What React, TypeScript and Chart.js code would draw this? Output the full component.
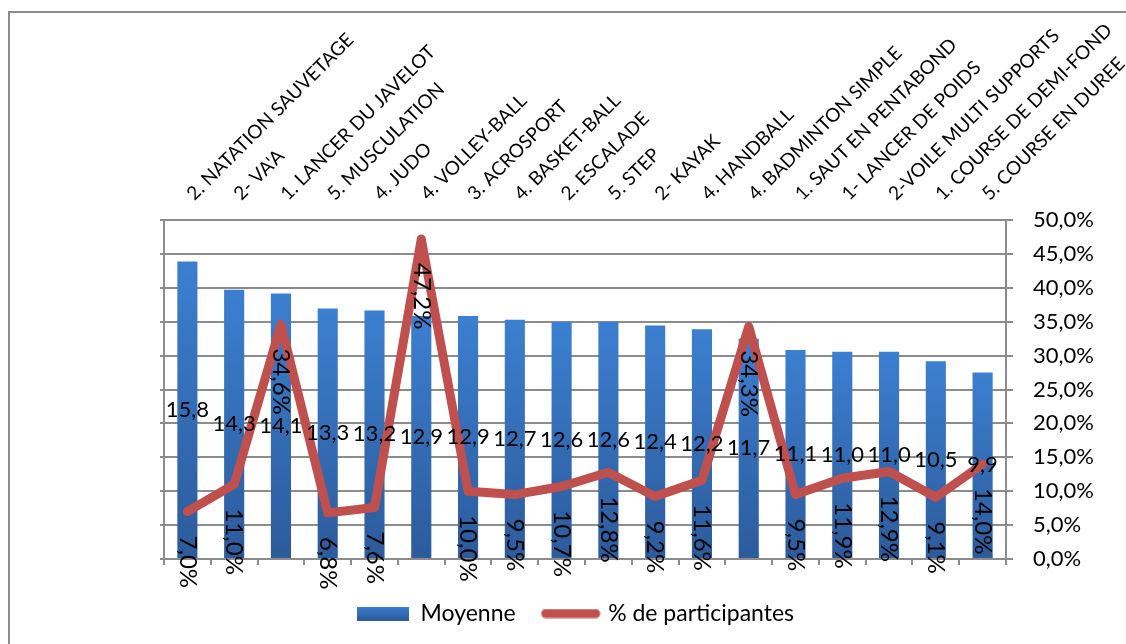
import React, { useEffect, useRef } from 'react';
import { Chart, registerables } from 'chart.js';

Chart.register(...registerables);

const categories: string[] = [
  '2. NATATION SAUVETAGE',
  "2- VA'A",
  '1. LANCER DU JAVELOT',
  '5. MUSCULATION',
  '4. JUDO',
  '4. VOLLEY-BALL',
  '3. ACROSPORT',
  '4. BASKET-BALL',
  '2. ESCALADE',
  '5. STEP',
  '2- KAYAK',
  '4. HANDBALL',
  '4. BADMINTON SIMPLE',
  '1. SAUT EN PENTABOND',
  '1- LANCER DE POIDS',
  '2-VOILE MULTI SUPPORTS',
  '1. COURSE DE DEMI-FOND',
  '5. COURSE EN DUREE',
];

const moyenne: number[] = [15.8, 14.3, 14.1, 13.3, 13.2, 12.9, 12.9, 12.7, 12.6, 12.6, 12.4, 12.2, 11.7, 11.1, 11.0, 11.0, 10.5, 9.9];

const participantes: number[] = [7.0, 11.0, 34.6, 6.8, 7.6, 47.2, 10.0, 9.5, 10.7, 12.8, 9.2, 11.6, 34.3, 9.5, 11.9, 12.9, 9.1, 14.0];

const seriesNames: string[] = ['Moyenne', '% de participantes'];

const FONT = 'Lato';
const GRID = '#8c8c8c';
const RED = '#c0504d';
const BLUE_TOP = '#3c7fd0';
const BLUE_BOT = '#2c5b9b';

const fmt = (v: number) => v.toFixed(1).replace('.', ',');
const fmtPct = (v: number) => v.toFixed(1).replace('.', ',') + '%';

const valueLabels = {
  id: 'valueLabels',
  afterDatasetsDraw(chart: any) {
    const ctx = chart.ctx as CanvasRenderingContext2D;
    ctx.save();
    ctx.fillStyle = '#000';
    const barMeta = chart.getDatasetMeta(0);
    ctx.font = `22px ${FONT}`;
    ctx.textAlign = 'center';
    ctx.textBaseline = 'middle';
    barMeta.data.forEach((el: any, i: number) => {
      const p = el.getProps(['x', 'y', 'base'], true);
      ctx.fillText(fmt(moyenne[i]), p.x, (p.y + p.base) / 2);
    });
    const lineMeta = chart.getDatasetMeta(1);
    ctx.font = `24px ${FONT}`;
    ctx.textAlign = 'left';
    lineMeta.data.forEach((pt: any, i: number) => {
      ctx.save();
      ctx.translate(pt.x, pt.y + 24);
      ctx.rotate(Math.PI / 2);
      ctx.fillText(fmtPct(participantes[i]), 0, 0);
      ctx.restore();
    });
    ctx.restore();
  },
};

function makeBarSwatch(): HTMLCanvasElement {
  const c = document.createElement('canvas');
  c.width = 52;
  c.height = 14;
  const g = c.getContext('2d')!;
  const grad = g.createLinearGradient(0, 0, 0, 14);
  grad.addColorStop(0, BLUE_TOP);
  grad.addColorStop(1, BLUE_BOT);
  g.fillStyle = grad;
  g.fillRect(0, 0, 52, 14);
  return c;
}

function makeLineSwatch(): HTMLCanvasElement {
  const c = document.createElement('canvas');
  c.width = 60;
  c.height = 10;
  const g = c.getContext('2d')!;
  g.strokeStyle = RED;
  g.lineWidth = 9;
  g.lineCap = 'round';
  g.beginPath();
  g.moveTo(5, 5);
  g.lineTo(55, 5);
  g.stroke();
  return c;
}

export default function App() {
  const ref = useRef<HTMLCanvasElement | null>(null);

  useEffect(() => {
    if (!ref.current) return;
    Chart.defaults.font.family = FONT;
    const barSwatch = makeBarSwatch();
    const lineSwatch = makeLineSwatch();
    const chart = new Chart(ref.current, {
      type: 'bar',
      data: {
        labels: categories,
        datasets: [
          {
            type: 'bar',
            label: seriesNames[0],
            data: moyenne,
            yAxisID: 'y',
            xAxisID: 'x',
            order: 2,
            barPercentage: 0.43,
            categoryPercentage: 1,
            backgroundColor: (c: any) => {
              const chart = c.chart;
              const area = chart.chartArea;
              if (!area || c.type !== 'data') return '#3673c0';
              const ys = chart.scales.y;
              const top = ys.getPixelForValue(c.raw);
              const bot = ys.getPixelForValue(0);
              if (!isFinite(top) || !isFinite(bot) || top === bot) return '#3673c0';
              const g = chart.ctx.createLinearGradient(0, top, 0, bot);
              g.addColorStop(0, BLUE_TOP);
              g.addColorStop(1, BLUE_BOT);
              return g;
            },
          } as any,
          {
            type: 'line',
            label: seriesNames[1],
            data: participantes,
            yAxisID: 'yRight',
            xAxisID: 'x',
            order: 1,
            borderColor: RED,
            backgroundColor: RED,
            borderWidth: 9,
            borderJoinStyle: 'round',
            borderCapStyle: 'round',
            pointRadius: 0,
            tension: 0,
            fill: false,
          } as any,
        ],
      },
      options: {
        animation: false,
        responsive: true,
        maintainAspectRatio: false,
        layout: { padding: { top: 0, bottom: 9, left: 15, right: 0 } },
        plugins: {
          tooltip: { enabled: false },
          legend: {
            position: 'bottom',
            labels: {
              usePointStyle: true,
              pointStyleWidth: 52,
              boxWidth: 52,
              boxHeight: 14,
              padding: 29,
              color: '#000',
              font: { size: 23, family: FONT },
              generateLabels: () => [
                {
                  text: seriesNames[0],
                  pointStyle: barSwatch,
                  fillStyle: BLUE_TOP,
                  strokeStyle: BLUE_TOP,
                  lineWidth: 0,
                  hidden: false,
                  datasetIndex: 0,
                  fontColor: '#000',
                },
                {
                  text: seriesNames[1],
                  pointStyle: lineSwatch,
                  fillStyle: RED,
                  strokeStyle: RED,
                  lineWidth: 0,
                  hidden: false,
                  datasetIndex: 1,
                  fontColor: '#000',
                },
              ],
            },
          } as any,
        },
        scales: {
          x: {
            type: 'category',
            position: 'top',
            offset: true,
            grid: { display: false },
            border: { display: false },
            ticks: {
              autoSkip: false,
              minRotation: 45,
              maxRotation: 45,
              padding: 7,
              labelOffset: 19,
              color: '#000',
              font: { size: 19, family: FONT },
            },
            afterFit: (s: any) => {
              s.height = 207;
              s.paddingLeft = 0;
              s.paddingRight = 0;
            },
          } as any,
          x2: {
            type: 'category',
            position: 'bottom',
            offset: true,
            grid: {
              display: true,
              drawOnChartArea: false,
              drawTicks: true,
              tickLength: 6,
              offset: true,
              color: GRID,
              lineWidth: 2,
            },
            border: { display: true, color: GRID, width: 2 },
            ticks: { display: false },
            afterFit: (s: any) => {
              s.height = 14;
              s.paddingLeft = 0;
              s.paddingRight = 0;
            },
          } as any,
          y: {
            type: 'linear',
            position: 'left',
            min: 0,
            max: 18,
            grid: {
              drawOnChartArea: false,
              drawTicks: true,
              tickLength: 4,
              color: GRID,
              lineWidth: 2,
            },
            border: { display: true, color: GRID, width: 2 },
            ticks: { display: false, stepSize: 1.8 },
            afterFit: (s: any) => {
              s.width = 139;
              s.paddingTop = 0;
              s.paddingBottom = 0;
            },
          } as any,
          yRight: {
            type: 'linear',
            position: 'right',
            min: 0,
            max: 50,
            grid: {
              drawOnChartArea: true,
              drawTicks: true,
              tickLength: 7,
              color: GRID,
              lineWidth: 2,
            },
            border: { display: true, color: GRID, width: 2 },
            ticks: {
              stepSize: 5,
              padding: 20,
              color: '#000',
              font: { size: 22, family: FONT },
              callback: (v: any) => fmtPct(Number(v)),
            },
            afterFit: (s: any) => {
              s.width = 120;
              s.paddingTop = 0;
              s.paddingBottom = 0;
            },
          } as any,
        },
      },
      plugins: [valueLabels],
    } as any);
    return () => chart.destroy();
  }, []);

  return (
    <div
      style={{
        position: 'fixed',
        left: 8,
        top: 11,
        width: 1118,
        height: 633,
        borderTop: `2px solid ${GRID}`,
        borderLeft: `2px solid ${GRID}`,
        boxSizing: 'border-box',
        overflow: 'hidden',
        background: '#fff',
      }}
    >
      <canvas ref={ref} />
    </div>
  );
}
